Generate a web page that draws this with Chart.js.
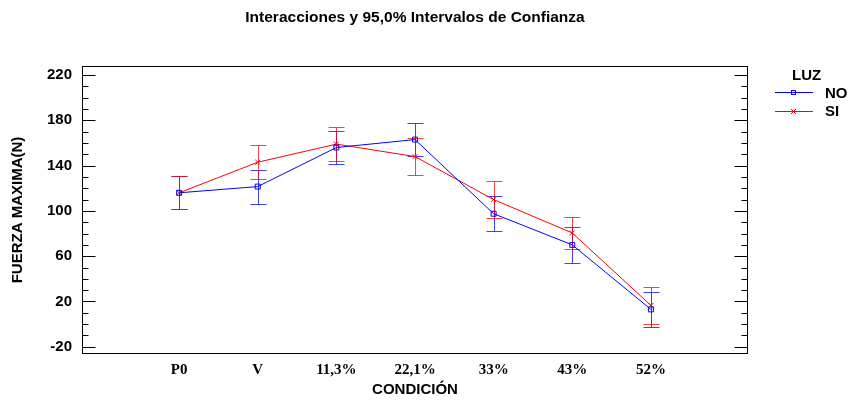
<!DOCTYPE html>
<html>
<head>
<meta charset="utf-8">
<script src="https://cdn.jsdelivr.net/npm/chart.js@4/dist/chart.umd.min.js"></script>
<style>
  html, body { margin: 0; padding: 0; background: #fff; }
  #wrap { width: 850px; height: 403px; }
</style>
</head>
<body>
<div id="wrap"><canvas id="c" width="850" height="403"></canvas></div>
<script>
// ---- data ----
const categories = ['P0', 'V', '11,3%', '22,1%', '33%', '43%', '52%'];
const seriesNames = ['NO', 'SI'];
const noMeans = [116, 121.5, 156, 163, 97.5, 70, 13];
const noErr   = [14.5, 15, 14.5, 14.5, 15.5, 16, 15.5];
const siMeans = [116, 143, 159, 148, 110, 80.5, 16.5];
const siErr   = [14.5, 15, 15, 16, 16.5, 14.5, 16.5];
const yTickValues = [-20, 20, 60, 100, 140, 180, 220];
const yMinorStep = 10;

const BLUE = 'rgb(0,0,255)';
const RED = 'rgb(255,0,0)';
const BLUE_EB = 'rgba(0,0,255,0.75)';
const RED_EB = 'rgba(255,0,0,0.75)';
const SANS = "'Liberation Sans', Arial, sans-serif";
const SERIF = "'Liberation Serif', 'Times New Roman', serif";

function toPoints(arr) { return arr.map((v, i) => ({ x: i, y: v })); }

const errorBars = {
  id: 'errorBars',
  beforeDatasetsDraw(chart) {
    const ctx = chart.ctx;
    const xs = chart.scales.x, ys = chart.scales.y;
    const sets = [[noMeans, noErr, BLUE_EB], [siMeans, siErr, RED_EB]];
    ctx.save();
    ctx.lineWidth = 1;
    sets.forEach(([m, e, col]) => {
      ctx.strokeStyle = col;
      m.forEach((v, i) => {
        const x = Math.round(xs.getPixelForValue(i)) + 0.5;
        const yt = Math.round(ys.getPixelForValue(v + e[i])) + 0.5;
        const yb = Math.round(ys.getPixelForValue(v - e[i])) + 0.5;
        ctx.beginPath();
        ctx.moveTo(x, yt); ctx.lineTo(x, yb);
        ctx.moveTo(x - 8, yt); ctx.lineTo(x + 8, yt);
        ctx.moveTo(x - 8, yb); ctx.lineTo(x + 8, yb);
        ctx.stroke();
      });
    });
    ctx.restore();
  }
};

const frame = {
  id: 'frame',
  afterDraw(chart) {
    const ctx = chart.ctx;
    const a = chart.chartArea;
    const ys = chart.scales.y;
    ctx.save();
    ctx.strokeStyle = '#000';
    ctx.lineWidth = 1;
    const L = Math.round(a.left) + 0.5, R = Math.round(a.right) - 0.5;
    const T = Math.round(a.top) + 0.5, B = Math.round(a.bottom) - 0.5;
    ctx.strokeRect(L, T, R - L, B - T);
    ctx.beginPath();
    for (let v = -20; v <= ys.max; v += yMinorStep) {
      const y = Math.round(ys.getPixelForValue(v)) + 0.5;
      const major = yTickValues.includes(v);
      const len = major ? 13 : 6;
      ctx.moveTo(L, y); ctx.lineTo(L + len, y);
      ctx.moveTo(R, y); ctx.lineTo(R - len, y);
    }
    ctx.stroke();

    // legend
    ctx.fillStyle = '#000';
    ctx.font = 'bold 15px ' + SANS;
    ctx.textBaseline = 'alphabetic';
    ctx.textAlign = 'left';
    ctx.fillText('LUZ', 792, 80);
    ctx.fillText(seriesNames[0], 825, 98);
    ctx.fillText(seriesNames[1], 825, 116);
    // blue sample
    ctx.strokeStyle = BLUE;
    ctx.beginPath(); ctx.moveTo(775, 92.5); ctx.lineTo(813, 92.5); ctx.stroke();
    ctx.strokeRect(791.5, 90.5, 4, 4);
    // red sample
    ctx.strokeStyle = RED;
    ctx.beginPath(); ctx.moveTo(775, 111.5); ctx.lineTo(813, 111.5); ctx.stroke();
    ctx.beginPath();
    ctx.moveTo(791, 109); ctx.lineTo(796, 114);
    ctx.moveTo(796, 109); ctx.lineTo(791, 114);
    ctx.stroke();
    ctx.restore();
  }
};

new Chart(document.getElementById('c'), {
  type: 'scatter',
  data: {
    datasets: [
      {
        label: seriesNames[0], data: toPoints(noMeans), showLine: true,
        borderColor: BLUE, borderWidth: 1, tension: 0,
        pointStyle: 'rect', pointRadius: 3.5, pointBorderWidth: 1,
        pointBorderColor: BLUE, pointBackgroundColor: 'rgba(0,0,0,0)'
      },
      {
        label: seriesNames[1], data: toPoints(siMeans), showLine: true,
        borderColor: RED, borderWidth: 1, tension: 0,
        pointStyle: 'crossRot', pointRadius: 3.5, pointBorderWidth: 1,
        pointBorderColor: RED, pointBackgroundColor: RED
      }
    ]
  },
  options: {
    responsive: false,
    animation: false,
    events: [],
    layout: { padding: { left: 0, right: 102, top: 0, bottom: 0 } },
    plugins: {
      legend: { display: false },
      tooltip: { enabled: false },
      title: {
        display: true, fullSize: false,
        text: 'Interacciones y 95,0% Intervalos de Confianza',
        color: '#000',
        font: { family: SANS, size: 15.5, weight: 'bold', lineHeight: 1.2 },
        padding: { top: 8, bottom: 39.4 }
      }
    },
    scales: {
      x: {
        type: 'linear', min: -1.235, max: 7.235,
        grid: { display: false, drawTicks: false },
        border: { display: false },
        afterFit(s) { s.height = 49; },
        afterBuildTicks(s) { s.ticks = categories.map((c, i) => ({ value: i })); },
        ticks: {
          color: '#000', padding: 7, autoSkip: false, maxRotation: 0,
          font: { family: SERIF, size: 15, weight: 'bold' },
          callback: (v) => categories[v]
        },
        title: {
          display: true, text: 'CONDICIÓN', color: '#000',
          font: { family: SANS, size: 15, weight: 'bold', lineHeight: 1.2 },
          padding: { top: 0, bottom: 4 }
        }
      },
      y: {
        type: 'linear', min: -26.4, max: 228,
        grid: { display: false, drawTicks: false },
        border: { display: false },
        afterFit(s) { s.width = 82; },
        afterBuildTicks(s) { s.ticks = yTickValues.map(v => ({ value: v })); },
        ticks: {
          color: '#000', padding: 10,
          font: { family: SANS, size: 15, weight: 'bold' },
          callback: (v) => String(v)
        },
        title: {
          display: true, text: 'FUERZA MAXIMA(N)', color: '#000',
          font: { family: SANS, size: 15, weight: 'bold', lineHeight: 1.2 },
          padding: { top: 9, bottom: 0 }
        }
      }
    }
  },
  plugins: [errorBars, frame]
});
</script>
</body>
</html>
